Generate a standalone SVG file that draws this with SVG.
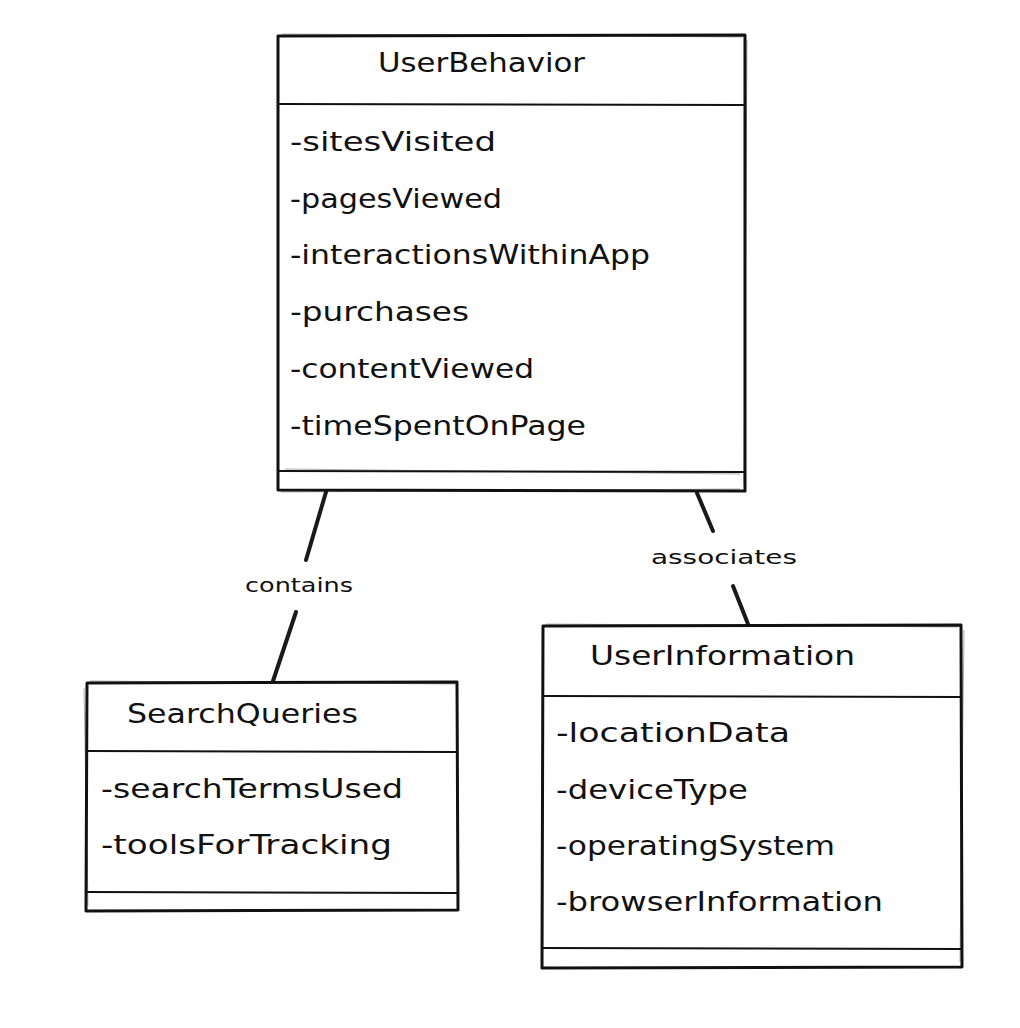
<svg xmlns="http://www.w3.org/2000/svg" width="1020" height="1028" viewBox="0 0 1020 1028">
  <style>
    .box { fill: #ffffff; stroke: #111111; stroke-width: 3; stroke-linejoin: round; }
    .ghost { fill: none; stroke: #111111; stroke-width: 1; stroke-opacity: 0.35; }
    .div { stroke: #111111; stroke-width: 2; fill: none; }
    .edge { stroke: #1a1a1a; stroke-width: 4; stroke-linecap: round; fill: none; }
    .title { font-family: "DejaVu Sans", "Liberation Sans", sans-serif; font-size: 27px; fill: #111111; }
    .attr { font-family: "DejaVu Sans", "Liberation Sans", sans-serif; font-size: 27px; fill: #111111; }
    .lbl { font-family: "DejaVu Sans", "Liberation Sans", sans-serif; font-size: 19px; fill: #111111; }
  </style>

  <rect width="1020" height="1028" fill="#ffffff"/>

  <!-- relations -->
  <g id="connectors">
    <g id="edge-contains">
      <path class="edge" d="M326 492 L306 560"/>
      <path class="edge" d="M296 612 L273 681"/>
      <text class="lbl" x="245" y="592" textLength="108" lengthAdjust="spacingAndGlyphs">contains</text>
    </g>
    <g id="edge-associates">
      <path class="edge" d="M697 493 L713 531"/>
      <path class="edge" d="M733 586 L748 624"/>
      <text class="lbl" x="651" y="564" textLength="146" lengthAdjust="spacingAndGlyphs">associates</text>
    </g>
  </g>

  <!-- UserBehavior class -->
  <g id="UserBehavior">
    <path class="box" d="M278 36 L745 35 L745 491 L278 490 Z"/>
    <path class="ghost" d="M282 34 L742 37 M747 40 L744 486 M281 492 L740 489"/>
    <path class="div" d="M278 104 L745 105"/>
    <path class="div" d="M278 471 L745 472"/>
    <path class="ghost" d="M285 469 L740 474"/>
    <text class="title" x="378" y="72" textLength="207" lengthAdjust="spacingAndGlyphs">UserBehavior</text>
    <text class="attr" x="290" y="151" textLength="206" lengthAdjust="spacingAndGlyphs">-sitesVisited</text>
    <text class="attr" x="290" y="208" textLength="212" lengthAdjust="spacingAndGlyphs">-pagesViewed</text>
    <text class="attr" x="290" y="264" textLength="360" lengthAdjust="spacingAndGlyphs">-interactionsWithinApp</text>
    <text class="attr" x="290" y="321" textLength="179" lengthAdjust="spacingAndGlyphs">-purchases</text>
    <text class="attr" x="290" y="378" textLength="244" lengthAdjust="spacingAndGlyphs">-contentViewed</text>
    <text class="attr" x="290" y="435" textLength="296" lengthAdjust="spacingAndGlyphs">-timeSpentOnPage</text>
  </g>

  <!-- SearchQueries class -->
  <g id="SearchQueries">
    <path class="box" d="M87 683 L457 682 L458 910 L86 911 Z"/>
    <path class="ghost" d="M90 681 L455 684 M84 688 L88 906"/>
    <path class="div" d="M87 751 L457 752"/>
    <path class="div" d="M87 892 L457 893"/>
    <text class="title" x="127" y="723" textLength="231" lengthAdjust="spacingAndGlyphs">SearchQueries</text>
    <text class="attr" x="101" y="798" textLength="302" lengthAdjust="spacingAndGlyphs">-searchTermsUsed</text>
    <text class="attr" x="101" y="854" textLength="291" lengthAdjust="spacingAndGlyphs">-toolsForTracking</text>
  </g>

  <!-- UserInformation class -->
  <g id="UserInformation">
    <path class="box" d="M543 626 L961 625 L962 967 L542 968 Z"/>
    <path class="ghost" d="M546 624 L958 627 M964 630 L960 962"/>
    <path class="div" d="M543 696 L961 697"/>
    <path class="div" d="M543 948 L962 949"/>
    <text class="title" x="590" y="665" textLength="265" lengthAdjust="spacingAndGlyphs">UserInformation</text>
    <text class="attr" x="556" y="742" textLength="234" lengthAdjust="spacingAndGlyphs">-locationData</text>
    <text class="attr" x="556" y="799" textLength="192" lengthAdjust="spacingAndGlyphs">-deviceType</text>
    <text class="attr" x="556" y="855" textLength="279" lengthAdjust="spacingAndGlyphs">-operatingSystem</text>
    <text class="attr" x="556" y="911" textLength="327" lengthAdjust="spacingAndGlyphs">-browserInformation</text>
  </g>
</svg>
